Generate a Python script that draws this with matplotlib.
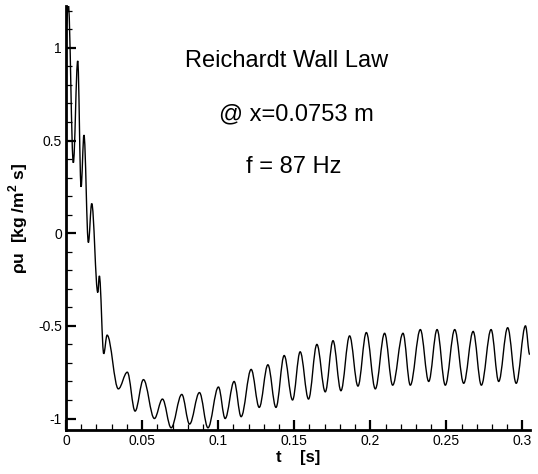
import matplotlib.pyplot as plt
from matplotlib.path import Path
from matplotlib.patches import PathPatch
from matplotlib.ticker import MultipleLocator

plt.rcParams['font.family'] = ['Liberation Sans', 'DejaVu Sans']
plt.rcParams['mathtext.fontset'] = 'custom'
plt.rcParams['mathtext.bf'] = 'Liberation Sans:bold'
plt.rcParams['mathtext.rm'] = 'Liberation Sans'

# extrema of the signal: time [s], rho*u [kg/m^2 s]
t_pts = [0.0, 0.0015, 0.0048, 0.0077, 0.0099, 0.0118, 0.0147, 0.0169,
         0.0209, 0.0219, 0.0248, 0.0270, 0.0344, 0.0403, 0.0454, 0.0509,
         0.0581, 0.0634, 0.0691, 0.0761, 0.0812, 0.0877, 0.0933, 0.1002,
         0.1046, 0.1105, 0.1151, 0.1217, 0.1270, 0.1327, 0.1380, 0.1434,
         0.1489, 0.1539, 0.1594, 0.1649, 0.1704, 0.1755, 0.1807, 0.1864,
         0.1919, 0.1974, 0.2033, 0.2094, 0.2147, 0.2215, 0.2263, 0.2329,
         0.2384, 0.2439, 0.2493, 0.2555, 0.2614, 0.2676, 0.2730, 0.2794,
         0.2844, 0.2903, 0.2959, 0.3020, 0.3048]
rhou_pts = [1.10, 1.24, 0.38, 0.93, 0.25, 0.53, -0.05, 0.16,
            -0.32, -0.23, -0.65, -0.55, -0.84, -0.75, -0.96, -0.79,
            -1.00, -0.895, -1.05, -0.87, -1.03, -0.86, -1.05, -0.83,
            -1.00, -0.80, -0.99, -0.735, -0.94, -0.71, -0.94, -0.66,
            -0.90, -0.64, -0.895, -0.60, -0.856, -0.58, -0.85, -0.554,
            -0.825, -0.536, -0.84, -0.54, -0.82, -0.54, -0.82, -0.52,
            -0.80, -0.52, -0.82, -0.52, -0.81, -0.53, -0.82, -0.52,
            -0.80, -0.51, -0.81, -0.50, -0.655]

x_ticks = [0, 0.05, 0.1, 0.15, 0.2, 0.25, 0.3]
x_labels = ["0", "0.05", "0.1", "0.15", "0.2", "0.25", "0.3"]
y_ticks = [-1, -0.5, 0, 0.5, 1]
y_labels = ["-1", "-0.5", "0", "0.5", "1"]

fig = plt.figure(figsize=(5.38, 4.74), dpi=100)
ax = fig.add_axes([0.1227, 0.0928, 0.8625, 0.8945])

# smooth curve between the extrema (horizontal tangent at each extremum)
verts = [(t_pts[0], rhou_pts[0])]
codes = [Path.MOVETO]
for i in range(1, len(t_pts)):
    t0, y0 = t_pts[i - 1], rhou_pts[i - 1]
    t1, y1 = t_pts[i], rhou_pts[i]
    dt = t1 - t0
    verts += [(t0 + 0.364 * dt, y0), (t1 - 0.364 * dt, y1), (t1, y1)]
    codes += [Path.CURVE4] * 3
ax.add_patch(PathPatch(Path(verts, codes), fill=False, lw=1.0, color='black'))

ax.set_xlim(0, 0.305)
ax.set_ylim(-1.062, 1.226)

ax.set_xticks(x_ticks)
ax.set_xticklabels(x_labels)
ax.set_yticks(y_ticks)
ax.set_yticklabels(y_labels)
ax.xaxis.set_minor_locator(MultipleLocator(0.01))
ax.yaxis.set_minor_locator(MultipleLocator(0.1))

for side in ("top", "right"):
    ax.spines[side].set_visible(False)
for side in ("left", "bottom"):
    ax.spines[side].set_linewidth(2.0)

ax.tick_params(which="major", direction="in", length=7.5, width=1.6,
               labelsize=10, pad=3)
ax.tick_params(which="minor", direction="in", length=4.5, width=0.9)

ax.set_xlabel("t    [s]", fontsize=12, fontweight="bold", labelpad=1)
ax.set_ylabel(r"ρu  [kg /m$^{\mathbf{2}}$ s]", fontsize=12.5,
              fontweight="bold", labelpad=6)

ax.text(0.145, 0.93, "Reichardt Wall Law", fontsize=17, ha="center", va="center")
ax.text(0.1513, 0.64, "@ x=0.0753 m", fontsize=17, ha="center", va="center")
ax.text(0.1497, 0.355, "f = 87 Hz", fontsize=17, ha="center", va="center")

fig.savefig("out.png", dpi=100)
